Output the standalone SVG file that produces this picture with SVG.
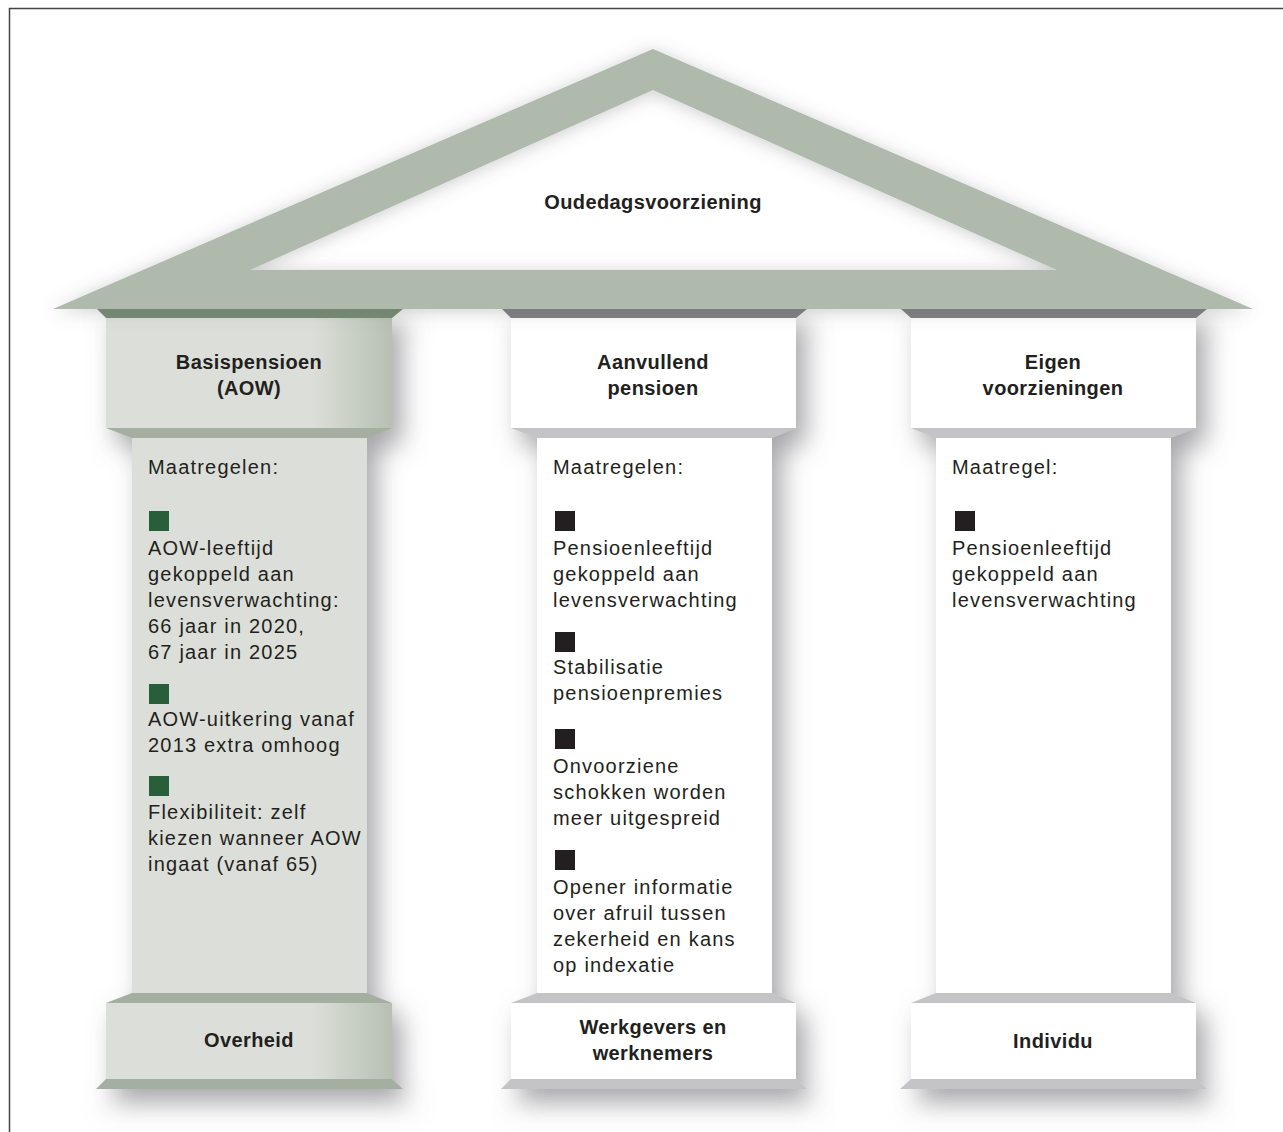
<svg xmlns="http://www.w3.org/2000/svg" width="1283" height="1132" viewBox="0 0 1283 1132">
  <defs>
    <style>
      .body { font-family: "Liberation Sans", Arial, sans-serif; font-size: 20px; letter-spacing: 1.2px; fill: #231f20; }
      .head { font-family: "Liberation Sans", Arial, sans-serif; font-size: 20px; font-weight: bold; letter-spacing: 0.4px; fill: #231f20; text-anchor: middle; }
      .roof { fill: #afbaad; }
      .g-top { fill: #748a72; }
      .g-bev { fill: #a4afa2; }
      .g-face { fill: url(#greenFace); }
      .g-shaft { fill: #dcdfd9; }
      .w-top { fill: #7f7f82; }
      .w-bev { fill: #c4c4c6; }
      .w-face { fill: #ffffff; }
      .b-green { fill: #285e3a; }
      .b-black { fill: #231f20; }
    </style>
    <linearGradient id="greenFace" x1="0" y1="0" x2="1" y2="0">
      <stop offset="0" stop-color="#dcdfd9"/>
      <stop offset="0.72" stop-color="#dcdfd9"/>
      <stop offset="1" stop-color="#b6c0b2"/>
    </linearGradient>
    <filter id="colShadow" x="-30%" y="-10%" width="160%" height="125%">
      <feGaussianBlur in="SourceAlpha" stdDeviation="13"/>
      <feOffset dx="10" dy="14" result="b"/>
      <feFlood flood-color="#6e6e74" flood-opacity="0.6"/>
      <feComposite in2="b" operator="in" result="s"/>
      <feMerge><feMergeNode in="s"/><feMergeNode in="SourceGraphic"/></feMerge>
    </filter>
    <filter id="roofShadow" x="-10%" y="-20%" width="120%" height="150%">
      <feGaussianBlur in="SourceAlpha" stdDeviation="9"/>
      <feOffset dx="0" dy="2" result="b"/>
      <feFlood flood-color="#6e6e74" flood-opacity="0.35"/>
      <feComposite in2="b" operator="in" result="s"/>
      <feMerge><feMergeNode in="s"/><feMergeNode in="SourceGraphic"/></feMerge>
    </filter>
  </defs>

  <rect x="0" y="0" width="1283" height="1132" fill="#ffffff"/>
  <path d="M9.5 1132 V8.5 H1283" fill="none" stroke="#444444" stroke-width="1.5"/>

  <!-- Column 1 -->
  <g id="col-basispensioen" filter="url(#colShadow)">
    <polygon class="g-top" points="97,309 403,309 392,318 106,318"/>
    <rect class="g-face" x="106" y="318" width="286" height="110"/>
    <polygon class="g-bev" points="106,428 392,428 367,438 132,438"/>
    <rect class="g-shaft" x="132" y="438" width="235" height="555"/>
    <polygon class="g-bev" points="132,993 367,993 392,1003 106,1003"/>
    <rect class="g-face" x="106" y="1003" width="286" height="76"/>
    <polygon class="g-bev" points="106,1079 392,1079 403,1089 96,1089"/>
  </g>

  <!-- Column 2 -->
  <g id="col-aanvullend" filter="url(#colShadow)">
    <polygon class="w-top" points="502,309 807,309 796,318 511,318"/>
    <rect class="w-face" x="511" y="318" width="285" height="110"/>
    <polygon class="w-bev" points="511,428 796,428 772,438 537,438"/>
    <rect class="w-face" x="537" y="438" width="235" height="555"/>
    <polygon class="w-bev" points="537,993 772,993 796,1003 511,1003"/>
    <rect class="w-face" x="511" y="1003" width="285" height="76"/>
    <polygon class="w-bev" points="511,1079 796,1079 807,1089 501,1089"/>
  </g>

  <!-- Column 3 -->
  <g id="col-eigen" filter="url(#colShadow)">
    <polygon class="w-top" points="901,309 1207,309 1196,318 911,318"/>
    <rect class="w-face" x="911" y="318" width="285" height="110"/>
    <polygon class="w-bev" points="911,428 1196,428 1171,438 936,438"/>
    <rect class="w-face" x="936" y="438" width="235" height="555"/>
    <polygon class="w-bev" points="936,993 1171,993 1196,1003 911,1003"/>
    <rect class="w-face" x="911" y="1003" width="285" height="76"/>
    <polygon class="w-bev" points="911,1079 1196,1079 1207,1089 900,1089"/>
  </g>

  <!-- Roof -->
  <g id="roof" filter="url(#roofShadow)">
    <path class="roof" fill-rule="evenodd" d="M53,309 L653,49 L1253,309 Z M250,270 L1057,270 L653,90 Z"/>
  </g>
  <g id="roof-label">
    <text class="head" x="653" y="209">Oudedagsvoorziening</text>
  </g>

  <g id="connectors"></g>

  <!-- Column 1 texts -->
  <g id="text-col1">
    <text class="head" x="249" y="369">Basispensioen</text>
    <text class="head" x="249" y="395">(AOW)</text>
    <text class="body" x="148" y="474">Maatregelen:</text>
    <rect class="b-green" x="149" y="511" width="20" height="20"/>
    <text class="body" x="148" y="555">AOW-leeftijd</text>
    <text class="body" x="148" y="581">gekoppeld aan</text>
    <text class="body" x="148" y="607">levensverwachting:</text>
    <text class="body" x="148" y="633">66 jaar in 2020,</text>
    <text class="body" x="148" y="659">67 jaar in 2025</text>
    <rect class="b-green" x="149" y="684" width="20" height="20"/>
    <text class="body" x="148" y="726">AOW-uitkering vanaf</text>
    <text class="body" x="148" y="752">2013 extra omhoog</text>
    <rect class="b-green" x="149" y="776" width="20" height="20"/>
    <text class="body" x="148" y="819">Flexibiliteit: zelf</text>
    <text class="body" x="148" y="845">kiezen wanneer AOW</text>
    <text class="body" x="148" y="871">ingaat (vanaf 65)</text>
    <text class="head" x="249" y="1047">Overheid</text>
  </g>

  <!-- Column 2 texts -->
  <g id="text-col2">
    <text class="head" x="653" y="369">Aanvullend</text>
    <text class="head" x="653" y="395">pensioen</text>
    <text class="body" x="553" y="474">Maatregelen:</text>
    <rect class="b-black" x="555" y="511" width="20" height="20"/>
    <text class="body" x="553" y="555">Pensioenleeftijd</text>
    <text class="body" x="553" y="581">gekoppeld aan</text>
    <text class="body" x="553" y="607">levensverwachting</text>
    <rect class="b-black" x="555" y="632" width="20" height="20"/>
    <text class="body" x="553" y="674">Stabilisatie</text>
    <text class="body" x="553" y="700">pensioenpremies</text>
    <rect class="b-black" x="555" y="729" width="20" height="20"/>
    <text class="body" x="553" y="773">Onvoorziene</text>
    <text class="body" x="553" y="799">schokken worden</text>
    <text class="body" x="553" y="825">meer uitgespreid</text>
    <rect class="b-black" x="555" y="850" width="20" height="20"/>
    <text class="body" x="553" y="894">Opener informatie</text>
    <text class="body" x="553" y="920">over afruil tussen</text>
    <text class="body" x="553" y="946">zekerheid en kans</text>
    <text class="body" x="553" y="972">op indexatie</text>
    <text class="head" x="653" y="1034">Werkgevers en</text>
    <text class="head" x="653" y="1060">werknemers</text>
  </g>

  <!-- Column 3 texts -->
  <g id="text-col3">
    <text class="head" x="1053" y="369">Eigen</text>
    <text class="head" x="1053" y="395">voorzieningen</text>
    <text class="body" x="952" y="474">Maatregel:</text>
    <rect class="b-black" x="955" y="511" width="20" height="20"/>
    <text class="body" x="952" y="555">Pensioenleeftijd</text>
    <text class="body" x="952" y="581">gekoppeld aan</text>
    <text class="body" x="952" y="607">levensverwachting</text>
    <text class="head" x="1053" y="1048">Individu</text>
  </g>
</svg>
